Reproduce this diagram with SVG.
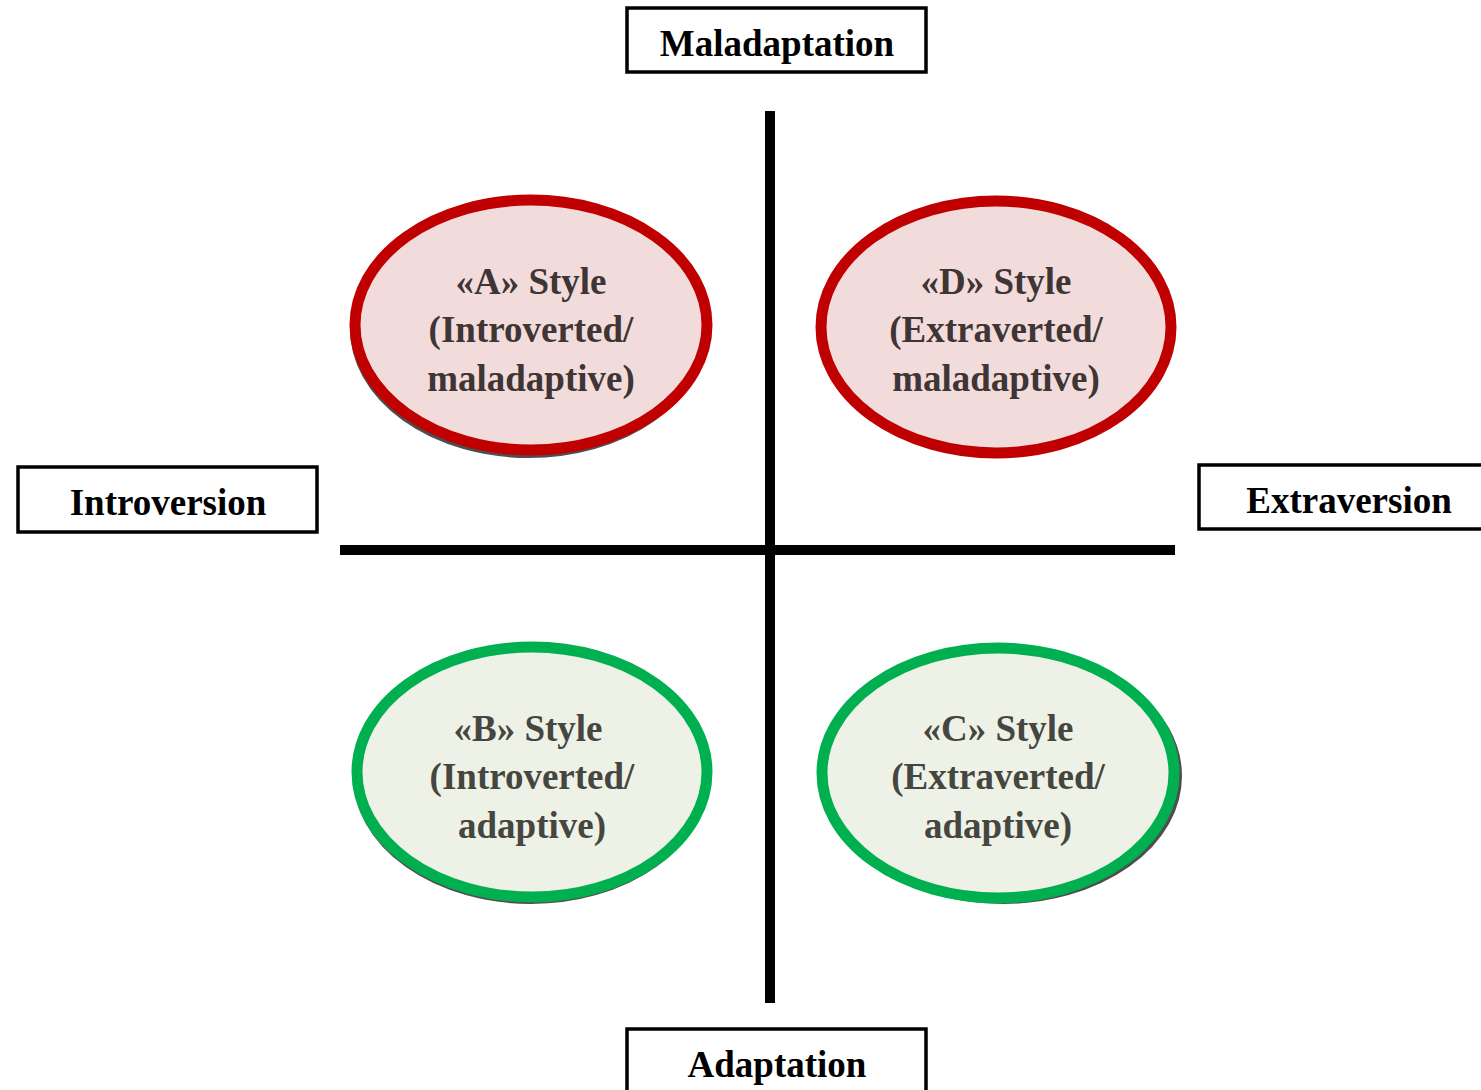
<svg xmlns="http://www.w3.org/2000/svg" width="1481" height="1090" viewBox="0 0 1481 1090">
<style>
.box{fill:#fff;stroke:#000;stroke-width:3.5}
.lbl{font-family:"Liberation Serif",serif;font-weight:bold;font-size:37px;fill:#000;text-anchor:middle}
.et{font-family:"Liberation Serif",serif;font-weight:bold;font-size:37px;text-anchor:middle}
.red{fill:#f2dcdb;stroke:#c00000;stroke-width:11}
.grn{fill:#eef2e6;stroke:#00b050;stroke-width:11}
.sh{fill:none;stroke:#222;stroke-width:6;opacity:0.8}
.ax{stroke:#000;stroke-width:10}
</style>
<rect width="1481" height="1090" fill="#fff"/>
<g id="connectors">
<line class="ax" x1="770" y1="111" x2="770" y2="1003"/>
<line class="ax" x1="340" y1="550" x2="1175" y2="550"/>
</g>
<g id="maladaptation"><rect class="box" x="627" y="8" width="299" height="64"/><text class="lbl" x="777" y="56">Maladaptation</text></g>
<g id="introversion"><rect class="box" x="18" y="467" width="299" height="65"/><text class="lbl" x="168" y="515">Introversion</text></g>
<g id="extraversion"><rect class="box" x="1199" y="465" width="300" height="64"/><text class="lbl" x="1349" y="513">Extraversion</text></g>
<g id="adaptation"><rect class="box" x="627" y="1029" width="299" height="80"/><text class="lbl" x="777" y="1077">Adaptation</text></g>
<g id="styleA">
<ellipse class="sh" cx="529" cy="329" rx="176" ry="126"/>
<ellipse class="red" cx="531" cy="325" rx="176" ry="125"/>
<text class="et" fill="#3f3535"><tspan x="531" y="294">«A» Style</tspan><tspan x="531" y="342">(Introverted/</tspan><tspan x="531" y="391">maladaptive)</tspan></text>
</g>
<g id="styleD">
<ellipse class="red" cx="996" cy="327" rx="175" ry="126"/>
<text class="et" fill="#3f3535"><tspan x="996" y="294">«D» Style</tspan><tspan x="996" y="342">(Extraverted/</tspan><tspan x="996" y="391">maladaptive)</tspan></text>
</g>
<g id="styleB">
<ellipse class="sh" cx="531" cy="776" rx="175" ry="125"/>
<ellipse class="grn" cx="532" cy="772" rx="175" ry="125"/>
<text class="et" fill="#464640"><tspan x="528" y="741">«B» Style</tspan><tspan x="532" y="789">(Introverted/</tspan><tspan x="532" y="838">adaptive)</tspan></text>
</g>
<g id="styleC">
<ellipse class="sh" cx="1003" cy="776" rx="176" ry="125"/>
<ellipse class="grn" cx="998" cy="773" rx="176" ry="125"/>
<text class="et" fill="#464640"><tspan x="998" y="741">«C» Style</tspan><tspan x="998" y="789">(Extraverted/</tspan><tspan x="998" y="838">adaptive)</tspan></text>
</g>
</svg>
